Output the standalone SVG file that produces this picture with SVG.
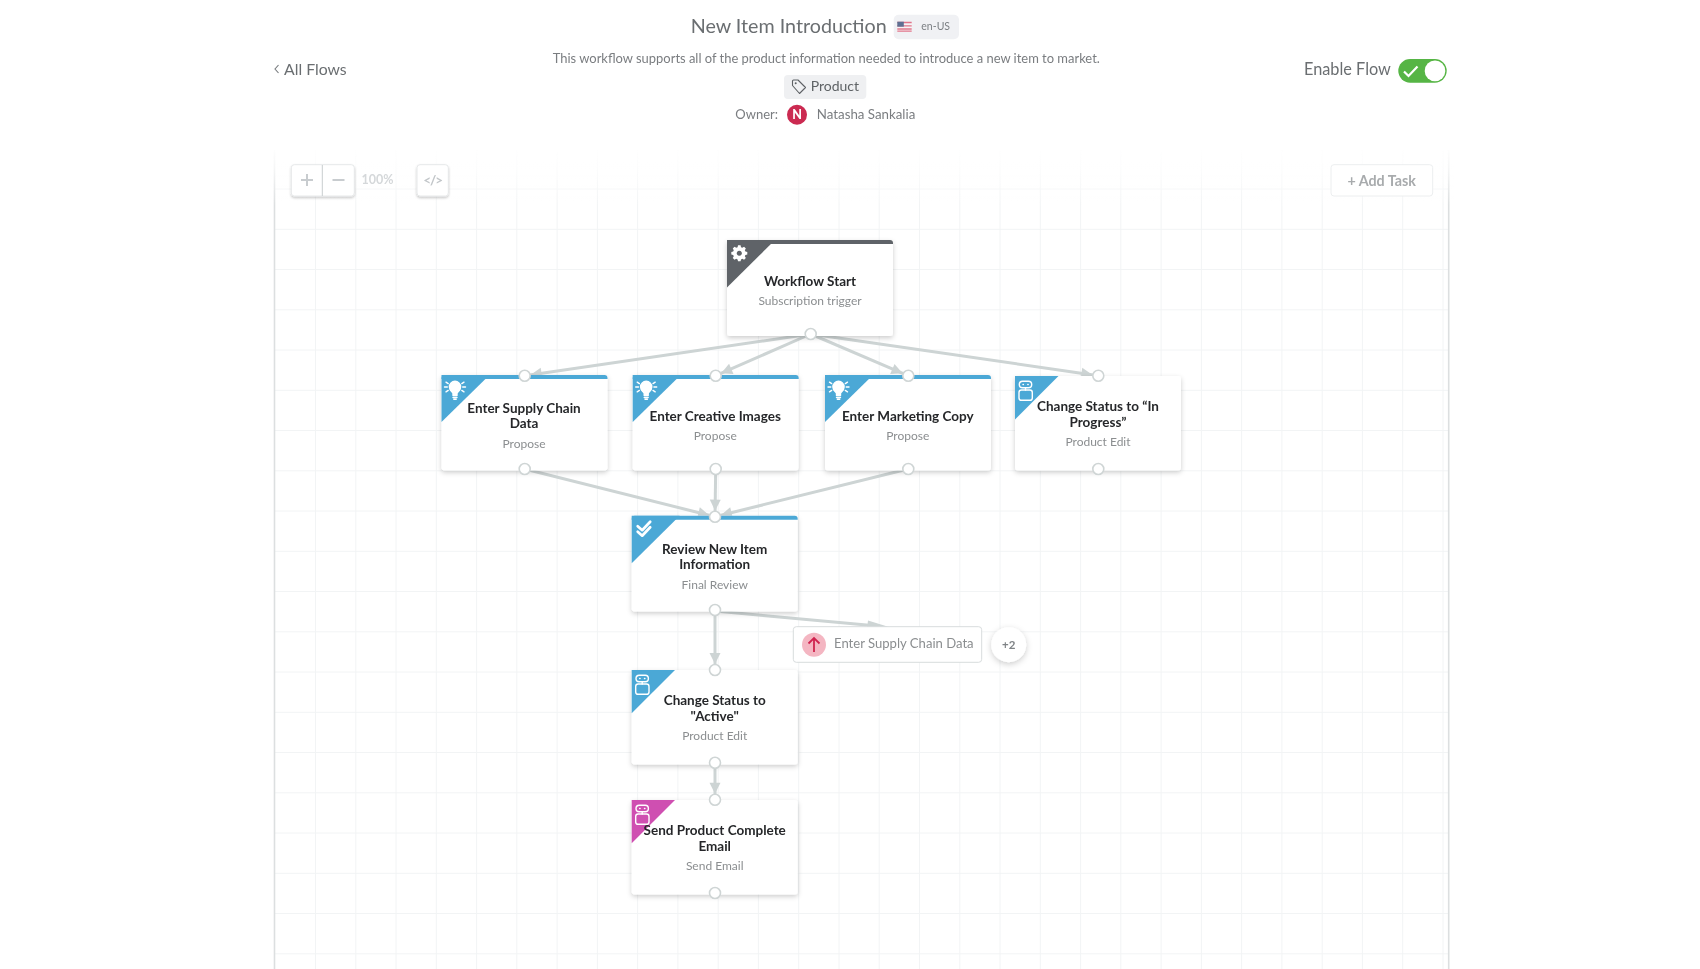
<svg xmlns="http://www.w3.org/2000/svg" xmlns:xlink="http://www.w3.org/1999/xlink" width="1700" height="969" viewBox="0 0 1700 969">
<style>
text{font-family:"Lato","Open Sans","Liberation Sans",sans-serif}
.m{text-anchor:middle}
.grid line{stroke:#f2f4f5;stroke-width:1}
.card{fill:#fff;filter:url(#sh)}
.t{font-size:13.5px;font-weight:700;fill:#26282a;text-anchor:middle}
.s{font-size:12px;fill:#8b8e90;text-anchor:middle}
.blue{fill:#4ba8d6}.pink{fill:#cf4fb1}.dark{fill:#5f6468}
.port{fill:#fff;stroke:#cfd5d5;stroke-width:1.6}
.ic{fill:none;stroke:#fff;stroke-width:1.4;stroke-linecap:round;stroke-linejoin:round}
.edge{fill:none;stroke:#cdd4d4;stroke-width:3;marker-end:url(#ah)}
.head{font-size:15.8px;fill:#6a6e71}
.btn{fill:#fff;stroke:#e6e8e9;stroke-width:1;filter:url(#sh2)}
</style>
<defs>
<filter id="sh" x="-15%" y="-15%" width="130%" height="135%"><feDropShadow dx="0" dy="2" stdDeviation="2.8" flood-color="#000" flood-opacity=".2"/></filter>
<filter id="sh2" x="-20%" y="-20%" width="140%" height="150%"><feDropShadow dx="0" dy="1.5" stdDeviation="1.2" flood-color="#000" flood-opacity=".22"/></filter>
<filter id="sh3" x="-40%" y="-40%" width="180%" height="190%"><feDropShadow dx="0" dy="2" stdDeviation="3" flood-color="#000" flood-opacity=".2"/></filter>
<filter id="soft" x="0" y="0" width="100%" height="100%"><feGaussianBlur stdDeviation=".45"/></filter>
<marker id="ah" markerUnits="userSpaceOnUse" markerWidth="24" markerHeight="14" refX="24" refY="7" orient="auto" viewBox="0 0 24 14"><path d="M7 1.500L18 7L7 12.500Z" fill="#cdd4d4"/></marker>
<linearGradient id="fade" x1="0" y1="0" x2="0" y2="1"><stop offset="0" stop-color="#fff"/><stop offset=".35" stop-color="#fff" stop-opacity=".75"/><stop offset="1" stop-color="#fff" stop-opacity="0"/></linearGradient>
<g id="bulb" class="ic">
<path d="M11.500 18.500v-2c0-1.400-3.600-2.800-3.600-6.600a5.600 5.600 0 0 1 11.200 0c0 3.800-3.600 5.200-3.600 6.600v2z" fill="#fff"/>
<path d="M11.500 20.500h4M12.300 22.300h2.400M4.500 5.200l2.200 1.400M3 10h2.800M4.500 14.800l2.200-1.400M22.500 5.200l-2.200 1.400M24 10h-2.800M22.500 14.800l-2.200-1.400"/>
</g>
<g id="robot" class="ic">
<rect x="4.300" y="5.300" width="12.400" height="6.400" rx="3.200"/>
<path d="M8 8.500h.4M12.800 8.500h.4M10.500 11.700v2.300"/>
<rect x="4" y="14" width="13.300" height="10.300" rx="2.400"/>
</g>
</defs>
<rect width="1700" height="969" fill="#fff"/>
<g filter="url(#soft)">
<g class="grid" id="grid">
<line x1="315.500" y1="150" x2="315.500" y2="969"/><line x1="355.800" y1="150" x2="355.800" y2="969"/><line x1="396" y1="150" x2="396" y2="969"/><line x1="436.300" y1="150" x2="436.300" y2="969"/><line x1="476.600" y1="150" x2="476.600" y2="969"/><line x1="516.800" y1="150" x2="516.800" y2="969"/><line x1="557.100" y1="150" x2="557.100" y2="969"/><line x1="597.400" y1="150" x2="597.400" y2="969"/><line x1="637.600" y1="150" x2="637.600" y2="969"/><line x1="677.900" y1="150" x2="677.900" y2="969"/><line x1="718.200" y1="150" x2="718.200" y2="969"/><line x1="758.400" y1="150" x2="758.400" y2="969"/><line x1="798.700" y1="150" x2="798.700" y2="969"/><line x1="839" y1="150" x2="839" y2="969"/><line x1="879.200" y1="150" x2="879.200" y2="969"/><line x1="919.500" y1="150" x2="919.500" y2="969"/><line x1="959.800" y1="150" x2="959.800" y2="969"/><line x1="1000" y1="150" x2="1000" y2="969"/><line x1="1040.300" y1="150" x2="1040.300" y2="969"/><line x1="1080.600" y1="150" x2="1080.600" y2="969"/><line x1="1120.800" y1="150" x2="1120.800" y2="969"/><line x1="1161.100" y1="150" x2="1161.100" y2="969"/><line x1="1201.400" y1="150" x2="1201.400" y2="969"/><line x1="1241.600" y1="150" x2="1241.600" y2="969"/><line x1="1281.900" y1="150" x2="1281.900" y2="969"/><line x1="1322.200" y1="150" x2="1322.200" y2="969"/><line x1="1362.400" y1="150" x2="1362.400" y2="969"/><line x1="1402.700" y1="150" x2="1402.700" y2="969"/><line x1="1443" y1="150" x2="1443" y2="969"/>
<line x1="274" y1="189" x2="1449" y2="189"/><line x1="274" y1="229.300" x2="1449" y2="229.300"/><line x1="274" y1="269.500" x2="1449" y2="269.500"/><line x1="274" y1="309.800" x2="1449" y2="309.800"/><line x1="274" y1="350" x2="1449" y2="350"/><line x1="274" y1="390.300" x2="1449" y2="390.300"/><line x1="274" y1="430.500" x2="1449" y2="430.500"/><line x1="274" y1="470.800" x2="1449" y2="470.800"/><line x1="274" y1="511" x2="1449" y2="511"/><line x1="274" y1="551.300" x2="1449" y2="551.300"/><line x1="274" y1="591.500" x2="1449" y2="591.500"/><line x1="274" y1="631.800" x2="1449" y2="631.800"/><line x1="274" y1="672" x2="1449" y2="672"/><line x1="274" y1="712.300" x2="1449" y2="712.300"/><line x1="274" y1="752.500" x2="1449" y2="752.500"/><line x1="274" y1="792.800" x2="1449" y2="792.800"/><line x1="274" y1="833" x2="1449" y2="833"/><line x1="274" y1="873.300" x2="1449" y2="873.300"/><line x1="274" y1="913.500" x2="1449" y2="913.500"/><line x1="274" y1="953.800" x2="1449" y2="953.800"/>
</g>
<line x1="274.500" y1="150" x2="274.500" y2="969" stroke="#dcdfe0" stroke-width="1.600"/>
<line x1="1448.700" y1="150" x2="1448.700" y2="969" stroke="#dcdfe0" stroke-width="1.600"/>
<rect x="270" y="146" width="1184" height="60" fill="url(#fade)"/>

<g id="header">
<path d="M278.500 65l-3.500 4 3.500 4" fill="none" stroke="#777b7e" stroke-width="1.100"/>
<text x="284" y="74.700" class="head">All Flows</text>
<text x="788.700" y="32.500" class="m" font-size="19.700" fill="#6a6e71">New Item Introduction</text>
<rect x="893.700" y="14.700" width="65.300" height="24.600" rx="5" fill="#f0f1f4"/>
<g id="flag"><rect x="897.300" y="21.700" width="14.400" height="10" fill="#f6f4f6"/><path d="M897.300 22.500h14.400M897.300 25.800h14.400M897.300 29h14.400M897.300 31.200h14.400" stroke="#e0758a" stroke-width="1.300"/><rect x="897.300" y="21.700" width="6.500" height="5" fill="#5f6f92"/></g>
<text x="935.700" y="30" class="m" font-size="10.500" fill="#7b7f83">en-US</text>
<text x="826.300" y="62.700" class="m" font-size="12.950" fill="#7a7d80">This workflow supports all of the product information needed to introduce a new item to market.</text>
<rect x="784" y="75" width="82.300" height="24" rx="4" fill="#eff0f2"/>
<path d="M792.500 85.500v-4.500a1 1 0 0 1 1-1h4.500l7.500 7.500-6 6z" fill="none" stroke="#5d6164" stroke-width="1.100" stroke-linejoin="round"/><circle cx="795.700" cy="83.200" r="1" fill="#5d6164"/>
<text x="810.700" y="91" font-size="14" fill="#5f6366">Product</text>
<text x="735.300" y="119" font-size="13" fill="#7a7d80">Owner:</text>
<circle cx="797" cy="114.700" r="10" fill="#cb2a51"/>
<text x="797" y="119.300" class="m" font-size="12.500" font-weight="900" fill="#fff">N</text>
<text x="816.800" y="119" font-size="13.300" fill="#7a7d80">Natasha Sankalia</text>
<text x="1304" y="75" class="head" style="font-size:16.300px">Enable Flow</text>
<rect x="1398.300" y="59" width="48.400" height="23.700" rx="11.850" fill="#56b544"/>
<path d="M1404 71.500l4.500 4.500 9-9.500" fill="none" stroke="#fff" stroke-width="2.200"/>
<circle cx="1435" cy="70.900" r="10.300" fill="#fff"/>
</g>

<g id="toolbar">
<rect x="291.300" y="164.700" width="63" height="31.300" rx="3" class="btn"/>
<line x1="322.300" y1="165" x2="322.300" y2="196" stroke="#c9cdcf"/>
<path d="M307 174v12M301 180h12M332.500 180h12" stroke="#c8cccf" stroke-width="2"/>
<text x="377.500" y="183.700" class="m" font-size="12.500" font-weight="700" fill="#d5d8da">100%</text>
<rect x="417" y="164.700" width="31.300" height="31.300" rx="3" class="btn"/>
<text x="432.700" y="185" class="m" font-size="13.500" font-weight="700" letter-spacing="-1" fill="#c2c6c9">&lt;/&gt;</text>
<rect x="1331" y="164.700" width="101.700" height="31.300" rx="3" fill="#fff" stroke="#eceeef"/>
<text x="1381.700" y="185.700" class="m" font-size="14.300" font-weight="700" fill="#a8abad">+ Add Task</text>
</g>

<g id="connectors">
<path class="edge" d="M810.700 334L524.700 375.700"/>
<path class="edge" d="M810.700 334L715.700 375.700"/>
<path class="edge" d="M810.700 334L908 375.700"/>
<path class="edge" d="M810.700 334L1098.300 375.700"/>
<path class="edge" d="M524.700 469L715 516.700"/>
<path class="edge" d="M715.700 469L715 516.700"/>
<path class="edge" d="M908 469L715 516.700"/>
<path class="edge" d="M715 610L715 670"/>
<path class="edge" d="M715 611L872 625.500" style="marker-end:none"/>
<path d="M868 620.500L889 627L867 629Z" fill="#cdd4d4"/>
<path class="edge" d="M715 762.700L715 799.700"/>
</g>

<g id="n-start" transform="translate(727 240)">
<rect class="card" width="166" height="96" rx="3"/>
<path class="dark" d="M0 4V3a3 3 0 0 1 3-3h160a3 3 0 0 1 3 3v1z"/>
<polygon class="dark" points="0,0 48,0 0,47.500"/>
<g transform="translate(12.300 13.300) scale(.85) translate(0 -1.900)">
<path fill="#fff" fill-rule="evenodd" d="M-1.500-7.500h3l.5 2.200 1.600.7 2-1.200 2.100 2.100-1.200 2 .7 1.600 2.200.5v3l-2.200.5-.7 1.600 1.200 2-2.100 2.100-2-1.200-1.600.7-.5 2.200h-3l-.5-2.200-1.600-.7-2 1.200-2.100-2.100 1.200-2-.7-1.600-2.200-.5v-3l2.200-.5.7-1.600-1.200-2 2.100-2.100 2 1.200 1.600-.7zM0-1.100a3 3 0 1 0 .01 0z"/>
</g>
<text class="t" x="83" y="46">Workflow Start</text>
<text class="s" x="83" y="65.300">Subscription trigger</text>
<circle class="port" cx="83.700" cy="94" r="5.500"/>
</g>

<g id="n-supply" transform="translate(441.500 375)">
<rect class="card" width="166" height="95.500" rx="3"/>
<path class="blue" d="M0 4V3a3 3 0 0 1 3-3h160a3 3 0 0 1 3 3v1z"/>
<polygon class="blue" points="0,0 48,0 0,47"/>
<use href="#bulb" x="0" y="2"/>
<text class="t" x="82.500" y="38.300">Enter Supply Chain</text>
<text class="t" x="82.500" y="53">Data</text>
<text class="s" x="82.500" y="73.300">Propose</text>
<circle class="port" cx="83.200" cy=".7" r="5.500"/><circle class="port" cx="83.200" cy="94" r="5.500"/>
</g>

<g id="n-creative" transform="translate(632.700 375)">
<rect class="card" width="166" height="95.500" rx="3"/>
<path class="blue" d="M0 4V3a3 3 0 0 1 3-3h160a3 3 0 0 1 3 3v1z"/>
<polygon class="blue" points="0,0 48,0 0,47"/>
<use href="#bulb" x="0" y="2"/>
<text class="t" x="82.500" y="46.300">Enter Creative Images</text>
<text class="s" x="82.500" y="65">Propose</text>
<circle class="port" cx="83" cy=".7" r="5.500"/><circle class="port" cx="83" cy="94" r="5.500"/>
</g>

<g id="n-marketing" transform="translate(825 375)">
<rect class="card" width="166" height="95.500" rx="3"/>
<path class="blue" d="M0 4V3a3 3 0 0 1 3-3h160a3 3 0 0 1 3 3v1z"/>
<polygon class="blue" points="0,0 48,0 0,47"/>
<use href="#bulb" x="0" y="2"/>
<text class="t" x="82.800" y="46.300">Enter Marketing Copy</text>
<text class="s" x="82.800" y="65">Propose</text>
<circle class="port" cx="83.300" cy=".7" r="5.500"/><circle class="port" cx="83.300" cy="94" r="5.500"/>
</g>

<g id="n-status" transform="translate(1015 376)">
<rect class="card" width="166" height="94.500" rx="3"/>
<polygon class="blue" points="0,0 43.500,0 0,43.500"/>
<use href="#robot"/>
<text class="t" x="83" y="35.300">Change Status to “In</text>
<text class="t" x="83" y="51.300">Progress”</text>
<text class="s" x="83" y="70.300">Product Edit</text>
<circle class="port" cx="83.300" cy="-.3" r="5.500"/><circle class="port" cx="83.300" cy="93" r="5.500"/>
</g>

<g id="n-review" transform="translate(631.700 515.700)">
<rect class="card" width="166" height="95.800" rx="3"/>
<path class="blue" d="M0 4V3a3 3 0 0 1 3-3h160a3 3 0 0 1 3 3v1z"/>
<polygon class="blue" points="0,0 48,0 0,47.600"/>
<path class="ic" style="stroke-width:2.700" d="M6 10.500l4.500 4 8-8.500M6 16l4.500 4 8-8.500"/>
<text class="t" x="83" y="38.300">Review New Item</text>
<text class="t" x="83" y="53.300">Information</text>
<text class="s" x="83" y="73.300">Final Review</text>
<circle class="port" cx="83.300" cy="1" r="5.500"/><circle class="port" cx="83.300" cy="94.300" r="5.500"/>
</g>

<g id="n-active" transform="translate(631.700 670)">
<rect class="card" width="166" height="94.500" rx="3"/>
<polygon class="blue" points="0,0 43.300,0 0,43.300"/>
<use href="#robot"/>
<text class="t" x="83" y="35">Change Status to</text>
<text class="t" x="83" y="51">"Active"</text>
<text class="s" x="83" y="70.300">Product Edit</text>
<circle class="port" cx="83.300" cy="0" r="5.500"/><circle class="port" cx="83.300" cy="92.700" r="5.500"/>
</g>

<g id="n-email" transform="translate(631.700 800)">
<rect class="card" width="166" height="94.500" rx="3"/>
<polygon class="pink" points="0,0 43.300,0 0,43.300"/>
<use href="#robot"/>
<text class="t" x="83" y="34.700">Send Product Complete</text>
<text class="t" x="83" y="50.700">Email</text>
<text class="s" x="83" y="70">Send Email</text>
<circle class="port" cx="83.300" cy="-.3" r="5.500"/><circle class="port" cx="83.300" cy="93" r="5.500"/>
</g>

<g id="n-branch">
<rect x="793.300" y="626.700" width="188.400" height="35.600" rx="3" fill="#fff" stroke="#d8dcdd"/>
<circle cx="814" cy="644.700" r="12" fill="#f4b6c2"/>
<path d="M814 652v-14M808.500 643.500l5.500-5.500 5.500 5.500" fill="none" stroke="#d0234f" stroke-width="1.800"/>
<text x="834" y="648" font-size="13.100" fill="#8b8e90">Enter Supply Chain Data</text>
</g>
<g id="n-more">
<circle cx="1008.700" cy="644.700" r="17.500" fill="#fff" filter="url(#sh3)"/>
<text x="1008.700" y="648.700" class="m" font-size="11.500" font-weight="700" fill="#7f8386">+2</text>
</g>
</g>
</svg>
